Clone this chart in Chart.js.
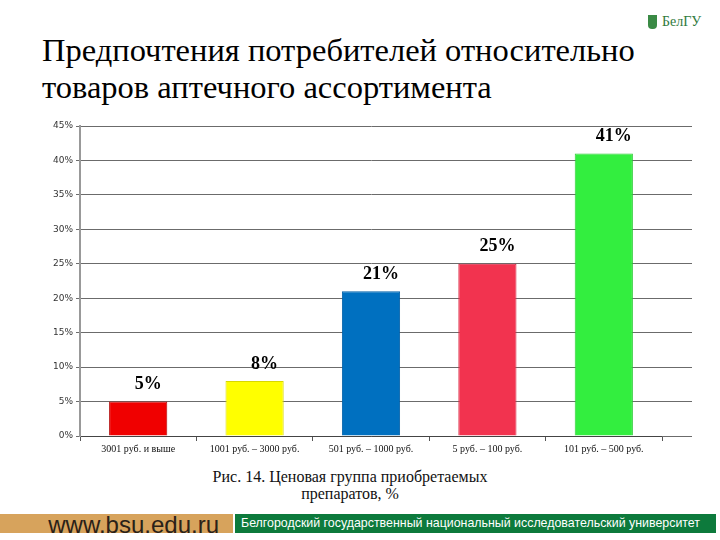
<!DOCTYPE html>
<html>
<head>
<meta charset="utf-8">
<script src="https://cdn.jsdelivr.net/npm/chart.js@4.4.0/dist/chart.umd.min.js"></script>
<style>
  body { margin: 0; width: 720px; height: 540px; background: #fff; position: relative; overflow: hidden; }
  #title { position: absolute; left: 42px; top: 32px; font-family: "Liberation Serif", serif; font-size: 32.5px; line-height: 37px; color: #000; }
  #chartBox { position: absolute; left: 30px; top: 115px; width: 662px; height: 345px; }
  #caption { position: absolute; left: 190px; top: 468px; width: 320px; text-align: center; font-family: "Liberation Serif", serif; font-size: 16px; line-height: 17px; color: #111; }
  #footer { position: absolute; left: 0; top: 514px; width: 720px; height: 19px; }
  #site { position: absolute; left: 0; top: 0; width: 233px; height: 19px; background: #d7a35c; font-family: "Liberation Sans", Arial, sans-serif; font-size: 24px; line-height: 22px; color: #2a2118; text-align: right; box-sizing: border-box; padding-right: 14px; overflow: visible; }
  #uni { position: absolute; left: 235px; top: 0; width: 481px; height: 19px; background: #0d7a3c; font-family: "Liberation Sans", Arial, sans-serif; font-size: 12.4px; line-height: 19px; color: #fff; padding-left: 6px; box-sizing: border-box; white-space: nowrap; }
  #logo { position: absolute; left: 648px; top: 14px; font-family: "Liberation Serif", serif; font-size: 14px; color: #2f7a3c; }
  #logo span { display: inline-block; width: 9px; height: 14px; background: #3a8a45; vertical-align: -3px; margin-right: 5px; border-radius: 0 0 4px 4px; }
</style>
</head>
<body>
<div id="title">Предпочтения потребителей относительно<br>товаров аптечного ассортимента</div>
<div id="logo"><span></span>БелГУ</div>
<div id="chartBox"><canvas id="chart"></canvas></div>
<div id="caption">Рис. 14. Ценовая группа приобретаемых<br>препаратов, %</div>
<div id="footer">
  <div id="site">www.bsu.edu.ru</div>
  <div id="uni">Белгородский государственный национальный исследовательский университет</div>
</div>
<script>
const categories = ['3001 руб. и выше', '1001 руб. – 3000 руб.', '501 руб. – 1000 руб.', '5 руб. – 100 руб.', '101 руб. – 500 руб.'];
const shares = [5, 8, 21, 25, 41];
const barColors = ['#f00000', '#ffff00', '#0070c0', '#f2334f', '#33ee3f'];
const yTicks = [0, 5, 10, 15, 20, 25, 30, 35, 40, 45];

// value labels above bars and grid lines running a bit past the bars
const extras = {
    id: 'extras',
    beforeDatasetsDraw(chart) {
        const y = chart.scales.y;
        const ctx = chart.ctx;
        ctx.save();
        ctx.strokeStyle = '#6b6b6b';
        ctx.lineWidth = 1;
        yTicks.forEach(v => {
            const py = Math.round(y.getPixelForValue(v) - 0.5) + 0.5;
            ctx.beginPath();
            ctx.moveTo(chart.chartArea.right, py);
            ctx.lineTo(chart.chartArea.right + 30, py);
            ctx.stroke();
        });
        ctx.restore();
    },
    afterDatasetsDraw(chart) {
        const ctx = chart.ctx;
        const meta = chart.getDatasetMeta(0);
        ctx.save();
        ctx.font = 'bold 18px "Liberation Serif"';
        ctx.fillStyle = '#000';
        ctx.textAlign = 'center';
        ctx.textBaseline = 'bottom';
        meta.data.forEach((bar, i) => {
            ctx.fillText(shares[i] + '%', bar.x + 10, bar.y - 8);
        });
        ctx.restore();
    }
};

new Chart(document.getElementById('chart'), {
    type: 'bar',
    data: {
        labels: categories,
        datasets: [{
            data: shares,
            backgroundColor: barColors,
            borderColor: ['#b00000', '#d8d800', '#0060a8', '#d82a44', '#2ccc36'],
            borderWidth: 1,
            barPercentage: 0.5,
            categoryPercentage: 1
        }]
    },
    options: {
        responsive: true,
        maintainAspectRatio: false,
        animation: false,
        layout: { padding: { top: 11, right: 30, left: 0, bottom: 0 } },
        plugins: { legend: { display: false }, tooltip: { enabled: false } },
        scales: {
            x: {
                grid: { display: true, offset: true, drawOnChartArea: false, drawTicks: true, tickLength: 5, color: '#555' },
                border: { color: '#444', width: 1 },
                ticks: {
                    font: { family: 'Liberation Serif', size: 10 },
                    color: '#111',
                    maxRotation: 0,
                    autoSkip: false,
                    padding: 2
                },
                afterFit(scale) { scale.height = 24; }
            },
            y: {
                min: 0,
                max: 45,
                afterBuildTicks(scale) { scale.ticks = yTicks.map(v => ({ value: v })); },
                grid: { color: '#6b6b6b', tickLength: 4, lineWidth: 1 },
                border: { color: '#999', width: 2 },
                ticks: {
                    callback: v => v + '%',
                    font: { family: 'DejaVu Sans', size: 9 },
                    color: '#333',
                    padding: 3
                },
                afterFit(scale) { scale.width = 50; }
            }
        }
    },
    plugins: [extras]
});
</script>
</body>
</html>
